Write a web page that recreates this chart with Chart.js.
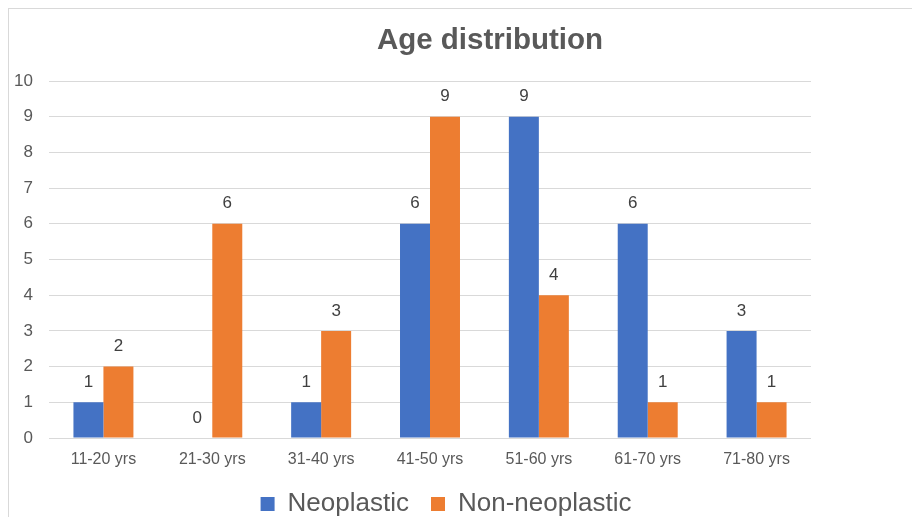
<!DOCTYPE html>
<html>
<head>
<meta charset="utf-8">
<script src="https://cdn.jsdelivr.net/npm/chart.js"></script>
<style>
  html, body { margin: 0; padding: 0; background: #fff; overflow: hidden; }
  #box { position: absolute; left: 8px; top: 8px; width: 1000px; height: 600px;
         border-left: 1px solid #d9d9d9; border-top: 1px solid #d9d9d9; }
  #wrap { position: absolute; left: 0; top: 0; width: 874px; height: 518px; }
</style>
</head>
<body>
<div id="box"><div id="wrap"><canvas id="ageChart"></canvas></div></div>
<script>
var chartTitle = 'Age distribution';
var categories = ['11-20 yrs', '21-30 yrs', '31-40 yrs', '41-50 yrs', '51-60 yrs', '61-70 yrs', '71-80 yrs'];
var neoplastic = [1, 0, 1, 6, 9, 6, 3];
var nonNeoplastic = [2, 6, 3, 9, 4, 1, 1];
var yMin = 0, yMax = 10, yStep = 1;

Chart.defaults.font.family = '"Liberation Sans", Arial, sans-serif';
Chart.defaults.color = '#595959';

// title drawn by hand so it can sit off-centre like the original
var titlePlugin = {
  id: 'titleText',
  afterDraw: function (chart) {
    var c = chart.ctx;
    c.save();
    c.font = 'bold 29.5px "Liberation Sans", Arial, sans-serif';
    c.fillStyle = '#595959';
    c.textAlign = 'center';
    c.textBaseline = 'middle';
    c.fillText(chartTitle, 481, 32);
    c.restore();
  }
};

// value labels above each bar
var valueLabels = {
  id: 'valueLabels',
  afterDatasetsDraw: function (chart) {
    var c = chart.ctx;
    c.save();
    c.font = '17px "Liberation Sans", Arial, sans-serif';
    c.fillStyle = '#404040';
    c.textAlign = 'center';
    c.textBaseline = 'middle';
    chart.data.datasets.forEach(function (ds, i) {
      chart.getDatasetMeta(i).data.forEach(function (bar, j) {
        c.fillText(ds.data[j], bar.x, bar.y - 20);
      });
    });
    c.restore();
  }
};

var ctx = document.getElementById('ageChart').getContext('2d');
var ageChart = new Chart(ctx, {
  type: 'bar',
  data: {
    labels: categories,
    datasets: [{
      label: 'Neoplastic',
      data: neoplastic,
      backgroundColor: '#4472C4',
      barPercentage: 1,
      categoryPercentage: 0.551
    }, {
      label: 'Non-neoplastic',
      data: nonNeoplastic,
      backgroundColor: '#ED7D31',
      barPercentage: 1,
      categoryPercentage: 0.551
    }]
  },
  options: {
    responsive: true,
    maintainAspectRatio: false,
    animation: false,
    layout: { padding: { top: 72 } },
    scales: {
      x: {
        grid: { display: false },
        border: { display: false },
        ticks: { font: { size: 16 }, color: '#595959', padding: 4 },
        afterFit: function (s) { s.height = 31; }
      },
      y: {
        min: yMin,
        max: yMax,
        ticks: { stepSize: yStep, font: { size: 17 }, color: '#595959', padding: 16 },
        grid: { color: '#d9d9d9', lineWidth: 1, drawTicks: false },
        border: { display: false },
        afterFit: function (s) { s.width = 40; }
      },
      y2: {
        position: 'right',
        grid: { display: false },
        ticks: { display: false },
        border: { display: false },
        afterFit: function (s) { s.width = 72; }
      }
    },
    plugins: {
      title: { display: false },
      tooltip: { enabled: false },
      legend: {
        position: 'bottom',
        labels: {
          boxWidth: 14,
          boxHeight: 14,
          padding: 22,
          font: { size: 26 },
          color: '#595959'
        }
      }
    }
  },
  plugins: [titlePlugin, valueLabels]
});
</script>
</body>
</html>
